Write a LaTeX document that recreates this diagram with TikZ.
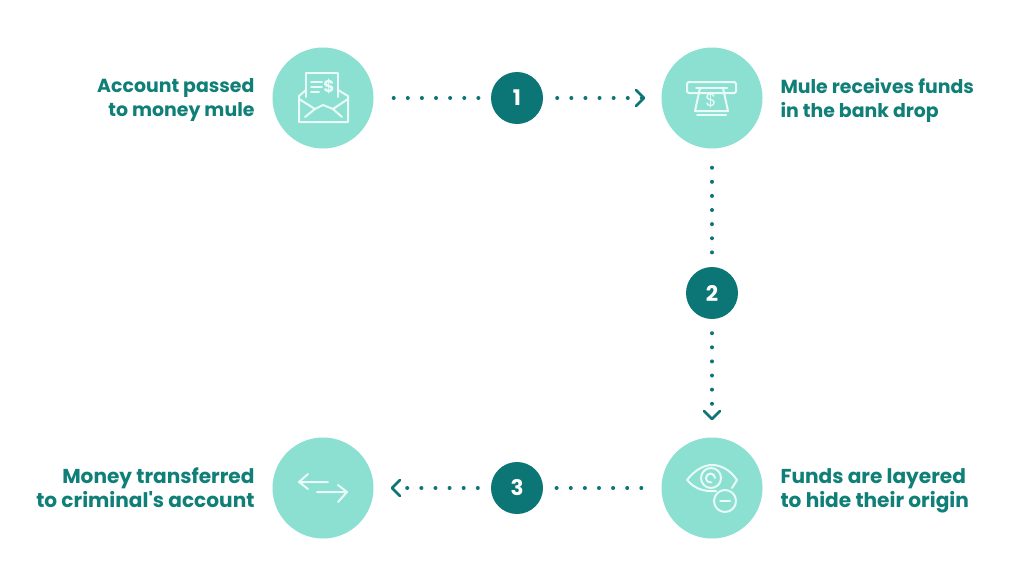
\documentclass[tikz,border=0pt]{standalone}
\usepackage{fontspec}
\setmainfont{Poppins}
\usetikzlibrary{arrows.meta}
\definecolor{mint}{HTML}{8BE0D1}
\definecolor{deepteal}{HTML}{0C7575}
\definecolor{labelteal}{HTML}{0F7F78}
\definecolor{iconwhite}{HTML}{EAFBF7}
\tikzset{
  bubble/.style={circle,fill=mint,minimum size=101pt,inner sep=0pt},
  numdot/.style={circle,fill=deepteal,text=white,minimum size=52pt,inner sep=0pt,font=\fontsize{21.5}{24}\selectfont\bfseries},
  dots/.style={draw=deepteal,line width=4pt,line cap=round,dash pattern=on 0.01pt off 14.1pt},
  chev/.style={-{Straight Barb[length=8pt,width=16pt,line width=2.6pt,round]}},
  lefttext/.style={anchor=east,align=right,text=labelteal,font=\fontsize{18.9}{24}\selectfont\bfseries},
  righttext/.style={anchor=west,align=left,text=labelteal,font=\fontsize{18.9}{24}\selectfont\bfseries},
  lowerfont/.style={font=\fontsize{20.1}{24}\selectfont\bfseries},
  icon/.style={draw=iconwhite,line width=2pt,line cap=round,line join=round},
}
\begin{document}
\begin{tikzpicture}[x=1pt,y=-1pt]
\useasboundingbox (0,0) rectangle (1024,586);
\fill[white] (0,0) rectangle (1024,586);
\node[bubble] (acc) at (323,98) {};
\node[bubble] (atm) at (712,98) {};
\node[bubble] (eye) at (712,488) {};
\node[bubble] (trans) at (323,488) {};
\node[numdot] (n1) at (517,98) {1};
\node[numdot] (n2) at (712,293) {2};
\node[numdot] (n3) at (517,488) {3};
\node[lefttext] (t1) at (258,100) {Account passed\\to money mule};
\node[righttext] (t2) at (777,100) {Mule receives funds\\in the bank drop};
\node[righttext,lowerfont] (t3) at (777,491) {Funds are layered\\to hide their origin};
\node[lefttext,lowerfont] (t4) at (258,488) {Money transferred\\to criminal\textquotesingle s account};
% connectors
\draw[dots,shorten <=20pt,shorten >=12pt] (acc.east) -- (n1.west);
\draw[dots,chev,shorten <=14pt,shorten >=16pt] (n1.east) -- (atm.west);
\draw[dots,shorten <=19pt,shorten >=12pt] (atm.south) -- (n2.north);
\draw[dots,chev,shorten <=14pt,shorten >=17pt] (n2.south) -- (eye.north);
\draw[dots,shorten <=20pt,shorten >=12pt] (eye.west) -- (n3.east);
\draw[dots,chev,shorten <=13pt,shorten >=17pt] (n3.west) -- (trans.east);
% envelope icon
\draw[icon] (306,97) -- (306,73) -- (338,73) -- (338,97);
\draw[icon] (306,90) -- (299,96) -- (299,122) -- (348,122) -- (348,96) -- (338,90);
\draw[icon] (299,99) -- (315,109);
\draw[icon] (348,99) -- (333,109);
\draw[icon] (305,117) -- (315,109) -- (323,105) -- (333,109) -- (342,117);
\draw[icon] (311,82) -- (322,82) (311,87) -- (322,87) (311,92) -- (319,92);
\node[text=iconwhite,inner sep=0pt,font=\fontsize{17}{17}\selectfont\bfseries] (dollarA) at (329,87) {\$};
% ATM icon
\draw[icon,rounded corners=1.5pt] (687,82) rectangle (736,93);
\draw[icon] (696,88) -- (727,88);
\draw[icon] (700,88) -- (695,111) -- (728,111) -- (723,88);
\draw[icon] (697,115) -- (726,115);
\node[text=iconwhite,inner sep=0pt,font=\fontsize{18}{18}\selectfont] (dollarB) at (711,100) {\$};
% eye icon
\draw[icon] (716,491) .. controls (703,492) and (694,488) .. (687,480) .. controls (694,471) and (703,465) .. (712,465) .. controls (722,465) and (731,471) .. (737,480) -- (732,488);
\draw[icon] (711,478) circle (10pt);
\draw[icon] (715,478) arc (0:280:4.5pt);
\draw[icon] (725,501) circle (11pt);
\draw[icon] (720,501) -- (730,501);
% transfer icon
\draw[icon] (328,482) -- (299,482) (308,474) -- (299,482) -- (308,489);
\draw[icon] (317,492) -- (347,492) (338,485) -- (347,492) -- (338,502);
\end{tikzpicture}
\end{document}
